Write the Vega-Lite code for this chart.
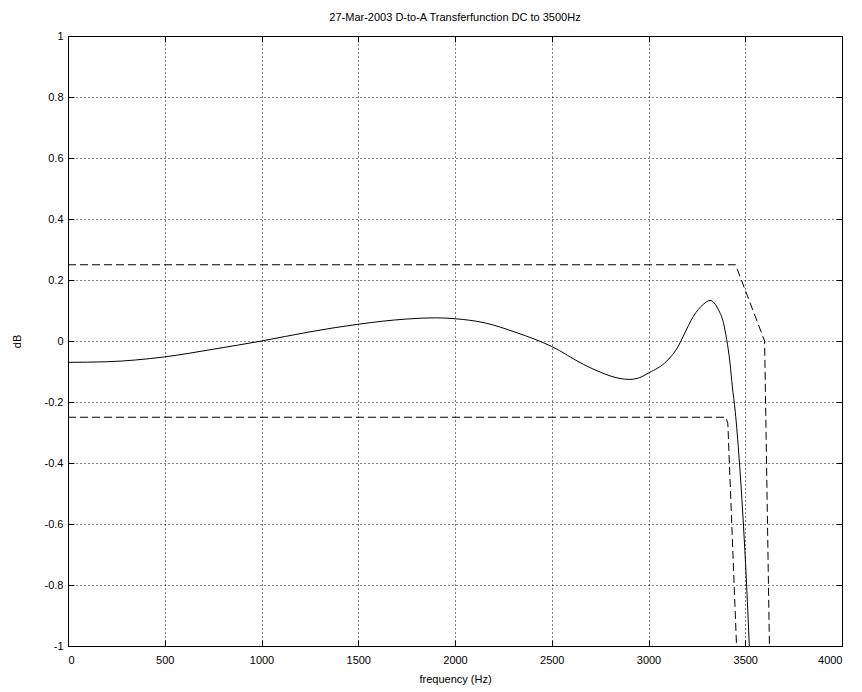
{
  "$schema": "https://vega.github.io/schema/vega-lite/v6.json",
  "width": 774,
  "height": 610,
  "autosize": {"type": "none"},
  "padding": {"left": 68, "top": 36, "right": 20, "bottom": 46},
  "background": "white",
  "title": {"text": "27-Mar-2003 D-to-A Transferfunction DC to 3500Hz", "font": "Liberation Sans", "fontSize": 11, "fontWeight": "normal", "color": "black", "offset": 7},
  "config": {
    "view": {"stroke": "black", "strokeWidth": 1},
    "axis": {"labelFont": "Liberation Sans", "labelFontSize": 11, "labelColor": "black", "titleFont": "Liberation Sans", "titleFontSize": 11, "titleFontWeight": "normal", "titleColor": "black", "domain": false, "ticks": true, "tickColor": "black", "tickWidth": 1, "tickSize": -6, "gridColor": "black", "gridDash": [1, 3], "gridOpacity": 1, "gridWidth": 1}
  },
  "datasets": {
    "curves": [
      {"s": "resp", "f": 0, "db": -0.07},
      {"s": "resp", "f": 200, "db": -0.068},
      {"s": "resp", "f": 500, "db": -0.052},
      {"s": "resp", "f": 750, "db": -0.027},
      {"s": "resp", "f": 1000, "db": 0.0},
      {"s": "resp", "f": 1250, "db": 0.03},
      {"s": "resp", "f": 1500, "db": 0.055},
      {"s": "resp", "f": 1750, "db": 0.072},
      {"s": "resp", "f": 1900, "db": 0.076},
      {"s": "resp", "f": 2000, "db": 0.073},
      {"s": "resp", "f": 2150, "db": 0.06},
      {"s": "resp", "f": 2320, "db": 0.027},
      {"s": "resp", "f": 2500, "db": -0.018},
      {"s": "resp", "f": 2665, "db": -0.077},
      {"s": "resp", "f": 2750, "db": -0.102},
      {"s": "resp", "f": 2853, "db": -0.123},
      {"s": "resp", "f": 2900, "db": -0.126},
      {"s": "resp", "f": 2940, "db": -0.123},
      {"s": "resp", "f": 3003, "db": -0.104},
      {"s": "resp", "f": 3094, "db": -0.066},
      {"s": "resp", "f": 3154, "db": -0.017},
      {"s": "resp", "f": 3180, "db": 0.016},
      {"s": "resp", "f": 3232, "db": 0.081},
      {"s": "resp", "f": 3283, "db": 0.12},
      {"s": "resp", "f": 3318, "db": 0.133},
      {"s": "resp", "f": 3361, "db": 0.103},
      {"s": "resp", "f": 3387, "db": 0.06},
      {"s": "resp", "f": 3404, "db": 0.005},
      {"s": "resp", "f": 3421, "db": -0.071},
      {"s": "resp", "f": 3433, "db": -0.148},
      {"s": "resp", "f": 3448, "db": -0.23},
      {"s": "resp", "f": 3469, "db": -0.39},
      {"s": "resp", "f": 3491, "db": -0.607},
      {"s": "resp", "f": 3505, "db": -0.773},
      {"s": "resp", "f": 3521, "db": -1.0},
      {"s": "upper", "f": 0, "db": 0.25},
      {"s": "upper", "f": 3450, "db": 0.25},
      {"s": "upper", "f": 3600, "db": 0.0},
      {"s": "upper", "f": 3625, "db": -1.0},
      {"s": "lower", "f": 0, "db": -0.25},
      {"s": "lower", "f": 3400, "db": -0.25},
      {"s": "lower", "f": 3410, "db": -0.27},
      {"s": "lower", "f": 3455, "db": -1.0}
    ]
  },
  "data": {"name": "curves"},
  "layer": [
    {
      "mark": {"type": "line", "color": "black", "strokeWidth": 1, "clip": true, "interpolate": "monotone"},
      "transform": [{"filter": "datum.s === 'resp'"}],
      "encoding": {
        "x": {"field": "f", "type": "quantitative", "scale": {"domain": [0, 4000], "nice": false}, "axis": {"title": "frequency (Hz)", "values": [0, 500, 1000, 1500, 2000, 2500, 3000, 3500, 4000], "labelExpr": "'' + datum.value", "grid": true, "labelPadding": 14, "titlePadding": 8}},
        "y": {"field": "db", "type": "quantitative", "scale": {"domain": [-1, 1], "nice": false}, "axis": {"title": "dB", "values": [-1, -0.8, -0.6, -0.4, -0.2, 0, 0.2, 0.4, 0.6, 0.8, 1], "labelExpr": "'' + datum.value", "grid": true, "labelPadding": 11, "titlePadding": 22}}
      }
    },
    {
      "mark": {"type": "line", "color": "black", "strokeWidth": 1, "strokeDash": [8, 4], "clip": true},
      "transform": [{"filter": "datum.s !== 'resp'"}],
      "encoding": {
        "x": {"field": "f", "type": "quantitative", "axis": {"orient": "top", "labels": false, "title": null, "grid": false, "values": [0, 500, 1000, 1500, 2000, 2500, 3000, 3500, 4000]}},
        "y": {"field": "db", "type": "quantitative", "axis": {"orient": "right", "labels": false, "title": null, "grid": false, "values": [-1, -0.8, -0.6, -0.4, -0.2, 0, 0.2, 0.4, 0.6, 0.8, 1]}},
        "detail": {"field": "s"}
      }
    }
  ],
  "resolve": {"axis": {"x": "independent", "y": "independent"}}
}
